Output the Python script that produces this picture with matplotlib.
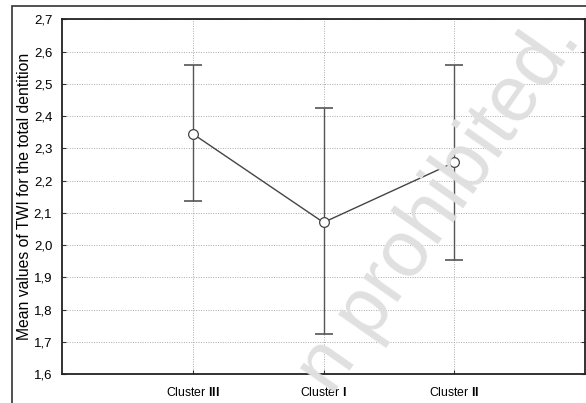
import matplotlib
matplotlib.use("Agg")
import matplotlib.pyplot as plt
from matplotlib.patches import Rectangle
from matplotlib import font_manager as fm

categories = ["Cluster III", "Cluster I", "Cluster II"]
tick_labels = [r"Cluster $\mathbf{III}$", r"Cluster $\mathbf{I}$", r"Cluster $\mathbf{II}$"]
means = [2.345, 2.070, 2.256]
upper = [2.558, 2.425, 2.558]
lower = [2.138, 1.723, 1.952]
yticks = [1.6, 1.7, 1.8, 1.9, 2.0, 2.1, 2.2, 2.3, 2.4, 2.5, 2.6, 2.7]

names = {f.name for f in fm.fontManager.ttflist}
narrow = 'Liberation Sans Narrow' if 'Liberation Sans Narrow' in names else 'Liberation Sans'

plt.rcParams['font.family'] = ['Liberation Sans', 'DejaVu Sans']
plt.rcParams['mathtext.fontset'] = 'custom'
plt.rcParams['mathtext.rm'] = narrow
plt.rcParams['mathtext.bf'] = narrow + ':bold'

fig = plt.figure(figsize=(5.86, 4.03), dpi=100)
ax = fig.add_axes([62/586, 1-374/403, (585-62)/586, (374-19.3)/403])

# outer frame (partially cropped)
fig.patches.append(Rectangle((12/586, -0.1), 1.2, 1-6/403+0.1, transform=fig.transFigure,
                             fill=False, edgecolor='#333333', linewidth=1.2))

x = list(range(1, len(categories)+1))
yerr = [[m-l for m, l in zip(means, lower)], [u-m for m, u in zip(means, upper)]]
ax.errorbar(x, means, yerr=yerr, fmt='-', color='#444444', lw=1.0, ecolor='#555555',
            elinewidth=1.0, capsize=6.5, capthick=1.2, zorder=3)
ax.plot(x, means, 'o', ms=7, mfc='white', mec='#444444', mew=0.9, zorder=4)

ax.set_xlim(0, 4)
ax.set_ylim(1.6, 2.7)
ax.set_xticks(x)
ax.set_xticklabels(tick_labels, fontsize=9.5 if narrow != 'Liberation Sans' else 8.8, family=narrow)
ax.set_yticks(yticks)
ax.set_yticklabels([f"{v:.1f}".replace('.', ',') for v in yticks], fontsize=9.5)
ax.tick_params(axis='both', direction='in', length=3, color='#333333')
ax.tick_params(axis='y', right=True, left=True, pad=7)
ax.tick_params(axis='x', pad=9)
ax.grid(True, linestyle=(0, (1, 1.5)), color='#aaaaaa', linewidth=0.7)
ax.set_axisbelow(True)
for s in ax.spines.values():
    s.set_color('#222222')
    s.set_linewidth(1.3)

ax.set_ylabel("Mean values of TWI for the total dentition", fontsize=11.3, labelpad=1)

# faint watermark (as visible in the cropped reference)
fig.text(440/586, 1-206/403, "n prohibited.", rotation=55, ha='center', va='center',
         rotation_mode='anchor', fontsize=57, color='#e0e0e0', zorder=0.5)

fig.savefig("out.png", dpi=100)
